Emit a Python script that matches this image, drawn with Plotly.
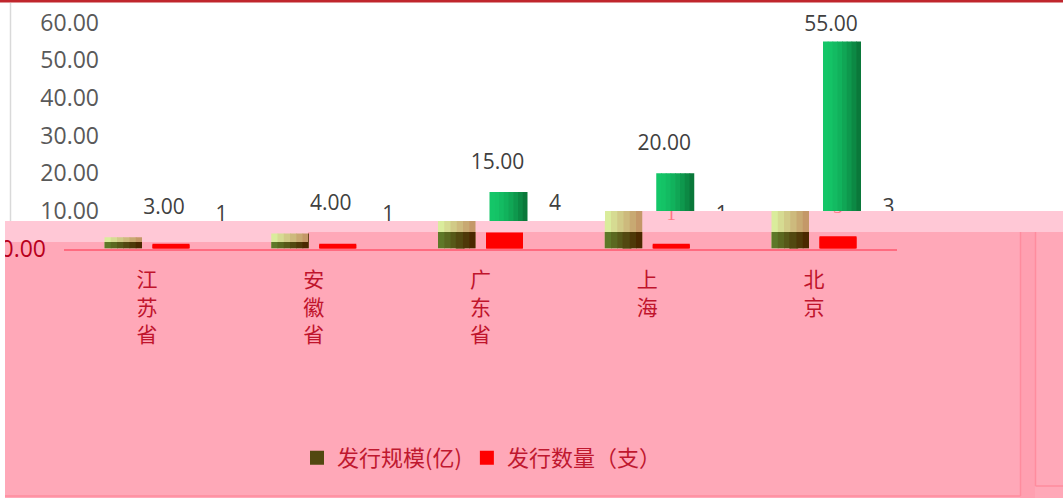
import plotly.graph_objects as go

# ---------------- data ----------------
categories = ["江苏省", "安徽省", "广东省", "上海", "北京"]
scale_values = [3.00, 4.00, 15.00, 20.00, 55.00]   # 发行规模(亿)
count_values = [1, 1, 4, 1, 3]                      # 发行数量（支）
y_tick_values = [0, 10, 20, 30, 40, 50, 60]
y_tick_labels = ["0.00", "10.00", "20.00", "30.00", "40.00", "50.00", "60.00"]
legend_names = ["发行规模(亿)", "发行数量（支）"]

# ---------------- geometry helpers (pixel <-> axis units) ----------------
W, H = 1063, 498
X0, DX = 147.0, 166.75      # pixel x of first category, pixels per category
Y0, DY = 248.5, 3.765       # pixel y of value 0, pixels per value unit


def ux(p):
    return (p - X0) / DX


def uy(p):
    return (Y0 - p) / DY


def lerp(c1, c2, t):
    return "#%02x%02x%02x" % tuple(int(round(a + (b - a) * t)) for a, b in zip(c1, c2))


xs = list(range(len(categories)))
vert_labels = ["<br>".join(c) for c in categories]

fig = go.Figure()
axes = {}


def subplot(n, l, r, t, b, xr=None, yr=None):
    sx = "" if n == 1 else str(n)
    axes["xaxis" + sx] = dict(domain=[l / W, r / W], range=xr or [ux(l), ux(r)],
                              anchor="y" + sx, visible=False, fixedrange=True,
                              showgrid=False, zeroline=False, automargin=False)
    axes["yaxis" + sx] = dict(domain=[1 - b / H, 1 - t / H], range=yr or [uy(b), uy(t)],
                              anchor="x" + sx, visible=False, fixedrange=True,
                              showgrid=False, zeroline=False, automargin=False)
    return "x" + sx, "y" + sx


def strips(xa, ya, values, left_px, width_px, c_left, c_right, n, gamma=1.0,
           legend_name=None):
    for k in range(n):
        t = (k / (n - 1)) ** gamma
        extra = 0.7 if k < n - 1 else 0.0
        is_leg = legend_name is not None and k == n // 2
        col = lerp(c_left, c_right, t)
        fig.add_trace(go.Bar(
            x=xs, y=values, xaxis=xa, yaxis=ya,
            offset=(left_px + k * width_px / n) / DX,
            width=(width_px / n + extra) / DX,
            marker=dict(color=col, line=dict(width=2 if is_leg else 0, color=col)),
            name=legend_name or "", showlegend=is_leg,
            legendrank=1, hoverinfo="skip"))


PLOT_L, PLOT_R = X0 - 0.5 * DX, X0 + 4.5 * DX

# ---- layer A : white chart (green bars, grey labels, value axis) ----
xa, ya = subplot(1, 100, PLOT_R, Y0 - 60 * DY, Y0)
axes["yaxis"].update(visible=True, tickvals=y_tick_values, ticktext=y_tick_labels,
                     ticks="", showline=False,
                     tickfont=dict(family="Open Sans", size=23, color="#595959"))
strips(xa, ya, scale_values, 9, 38, (20, 198, 104), (10, 120, 58), 8, gamma=1.6)
fig.add_trace(go.Scatter(
    x=[i + 17 / DX for i in xs], y=[min(v + 28.5 / DY, uy(26)) for v in scale_values],
    text=["%.2f" % v for v in scale_values], mode="text", textposition="middle center",
    textfont=dict(family="Open Sans", size=21, color="#404040"),
    cliponaxis=False, xaxis=xa, yaxis=ya, showlegend=False, hoverinfo="skip"))
fig.add_trace(go.Scatter(
    x=[i + 74.5 / DX for i in xs], y=[c + 28.5 / DY for c in count_values],
    text=[str(c) for c in count_values], mode="text", textposition="middle center",
    textfont=dict(family="Open Sans", size=21, color="#404040"),
    cliponaxis=False, xaxis=xa, yaxis=ya, showlegend=False, hoverinfo="skip"))

# ---- layer B : pink overlay (pixel coordinates) ----
xb, yb = subplot(2, 0, W, 0, H, xr=[0, W], yr=[H, 0])
fig.add_trace(go.Scatter(x=[None], y=[None], xaxis=xb, yaxis=yb, mode="markers",
                         showlegend=False, hoverinfo="skip"))

# ---- layers L : light strip of the pink chart ----
OLIVE_L = ((218, 236, 156), (196, 152, 104))
OLIVE_D = ((94, 120, 40), (74, 40, 0))
light_windows = [(3, PLOT_L, 605, 221), (4, 605, PLOT_R, 211)]
for n, l, r, t in light_windows:
    xl, yl = subplot(n, l, r, t, Y0)
    strips(xl, yl, scale_values, -42.5, 37.5, OLIVE_L[0], OLIVE_L[1], 6)
    fig.add_trace(go.Bar(x=xs, y=count_values, xaxis=xl, yaxis=yl, offset=5.5 / DX,
                         width=37 / DX, marker=dict(color="#ff0000", line=dict(width=0)),
                         showlegend=False, hoverinfo="skip"))
    fig.add_trace(go.Scatter(
        x=[i + 24 / DX for i in xs], y=[c + 29 / DY for c in count_values],
        text=[str(c) for c in count_values], mode="text", textposition="middle center",
        textfont=dict(family="Liberation Serif", size=19, color="#ff7384"),
        xaxis=xl, yaxis=yl, showlegend=False, hoverinfo="skip"))

# ---- layers D : dark part of the pink chart (with category axis) ----
dark_windows = [(5, PLOT_L, 308, 242), (6, 308, PLOT_R, 232)]
for n, l, r, t in dark_windows:
    xd, yd = subplot(n, l, r, t, Y0)
    last = n == 6
    strips(xd, yd, scale_values, -42.5, 37.5, OLIVE_D[0], OLIVE_D[1], 6,
           legend_name=legend_names[0] if last else None)
    fig.add_trace(go.Bar(x=xs, y=count_values, xaxis=xd, yaxis=yd, offset=6.5 / DX,
                         width=35 / DX,
                         marker=dict(color="#ff0000", line=dict(width=2, color="#ff0000")),
                         name=legend_names[1], showlegend=last, legendrank=2,
                         hoverinfo="skip"))
    sx = str(n)
    axes["xaxis" + sx].update(
        visible=True, showline=True, linecolor="#ff6b80", linewidth=1.5,
        tickvals=xs, ticktext=vert_labels, ticks="outside", ticklen=12,
        tickcolor="rgba(0,0,0,0)",
        tickfont=dict(family="Noto Sans CJK SC", size=21, color="#c0142c"))
    if n == 5:
        axes["yaxis" + sx].update(
            visible=True, showline=False, tickvals=y_tick_values[:1],
            ticktext=y_tick_labels[:1], ticks="outside", ticklen=12,
            tickcolor="rgba(0,0,0,0)",
            tickfont=dict(family="Open Sans", size=23, color="#b8001c"))

# ---------------- decorations ----------------
PINK_D, PINK_L, PINK_LINE = "#ffa8b8", "#ffc8d6", "#ff8c9e"
shapes = [
    dict(type="rect", xref="paper", yref="paper", x0=0, x1=1, y0=1 - 2.5 / H, y1=1,
         fillcolor="#c0262d", line=dict(width=0), layer="below"),
    dict(type="line", xref="paper", yref="paper", x0=10.5 / W, x1=10.5 / W,
         y0=1 - 221 / H, y1=1 - 3 / H, line=dict(color="#d9d9d9", width=1.5), layer="below"),
    dict(type="rect", xref="x2", yref="y2", x0=5, x1=W, y0=221, y1=H,
         fillcolor=PINK_D, line=dict(width=0), layer="below"),
    dict(type="path", xref="x2", yref="y2",
         path="M5,221 H605 V211 H1063 V232 H308 V242 H5 Z",
         fillcolor=PINK_L, line=dict(width=0), layer="below"),
    dict(type="rect", xref="x2", yref="y2", x0=1020, x1=1035, y0=232, y1=H,
         fillcolor="#ffa0b1", line=dict(width=0), layer="below"),
    dict(type="line", xref="x2", yref="y2", x0=1020.5, x1=1020.5, y0=232, y1=496,
         line=dict(color=PINK_LINE, width=1.5), layer="below"),
    dict(type="line", xref="x2", yref="y2", x0=1035.5, x1=1035.5, y0=232, y1=486,
         line=dict(color=PINK_LINE, width=1.5), layer="below"),
    dict(type="line", xref="x2", yref="y2", x0=1035.5, x1=W, y0=486, y1=486,
         line=dict(color=PINK_LINE, width=1.5), layer="below"),
    dict(type="line", xref="x2", yref="y2", x0=5, x1=1020.5, y0=496, y1=496,
         line=dict(color=PINK_LINE, width=1.5), layer="below"),
    dict(type="rect", xref="paper", yref="paper", x0=0, x1=5 / W, y0=0, y1=1 - 205 / H,
         fillcolor="white", line=dict(width=0), layer="above"),
]

fig.update_layout(
    width=W, height=H, margin=dict(l=0, r=0, t=0, b=0, pad=0, autoexpand=False),
    paper_bgcolor="white", plot_bgcolor="rgba(0,0,0,0)",
    barmode="overlay", showlegend=True, hovermode=False,
    legend=dict(orientation="h", x=297 / W, xanchor="left", y=1 - 458 / H,
                yanchor="middle", bgcolor="rgba(0,0,0,0)", traceorder="normal",
                font=dict(family="Noto Sans CJK SC", size=22, color="#c0182f")),
    shapes=shapes,
    **axes,
)

fig.write_html("out.html", config={"displayModeBar": False},
               post_script="document.body.style.margin='0';")
